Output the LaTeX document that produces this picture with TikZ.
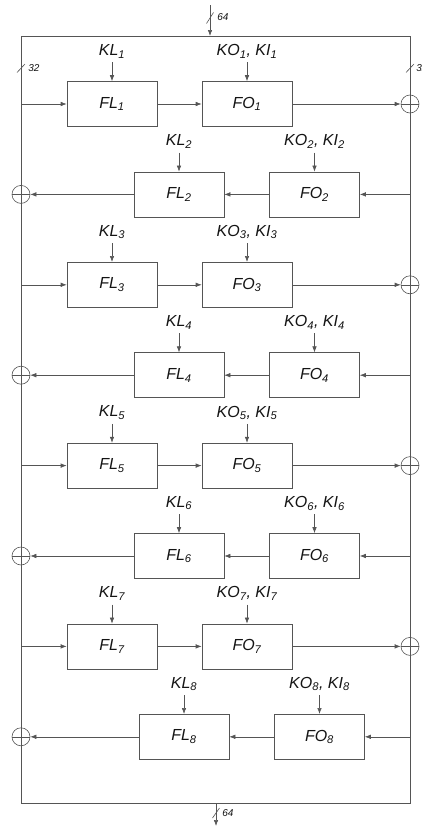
\documentclass[tikz,border=0pt]{standalone}
\usepackage{fontspec}
\setmainfont{Liberation Sans}
\usetikzlibrary{arrows.meta}
\definecolor{lc}{RGB}{85,85,85}
\definecolor{tc}{RGB}{20,20,20}
\begin{document}
\begin{tikzpicture}[x=1pt,y=-1pt,line width=0.6pt,
  box/.style={draw=lc,minimum width=90pt,minimum height=45pt,inner sep=0pt,text=tc,font=\itshape\fontsize{16}{16}\selectfont},
  lbl/.style={inner sep=0pt,text=tc,font=\itshape\fontsize{16}{16}\selectfont},
  small/.style={inner sep=0pt,text=tc,anchor=west,font=\itshape\fontsize{10}{10}\selectfont},
  arr/.style={draw=lc,-{Latex[length=6pt,width=4.5pt]}},
  ln/.style={draw=lc},
  xorc/.style={circle,draw=lc,minimum size=18pt,inner sep=0pt,
    path picture={\draw[lc] (path picture bounding box.north) -- (path picture bounding box.south)
      (path picture bounding box.west) -- (path picture bounding box.east);}}]
\useasboundingbox (0,0) rectangle (421,827);
% frame
\coordinate (tl) at (21,36);
\coordinate (br) at (410,803);
\draw[ln] (tl) rectangle (br);
% top input
\coordinate (tin) at (210,5);
\coordinate (tinE) at (210,36);
\draw[arr] (tin) -- (tinE);
\draw[ln] (206.5,23.5) -- (213.5,12.5);
\node[small] (t64) at (217,17) {64};
% bottom output
\coordinate (bout) at (216,803);
\coordinate (boutE) at (216,826);
\draw[arr] (bout) -- (boutE);
\draw[ln] (212.5,818) -- (219.5,808);
\node[small] (b64) at (222,813) {64};
% side slashes
\draw[ln] (17,72.5) -- (25,64);
\node[small] (l32) at (28,68) {32};
\draw[ln] (406,72.5) -- (414,64);
\node[small] (r32) at (416,68) {32};
\foreach \i in {1,...,8}{
  \pgfmathsetmacro\cy{104+(\i-1)*90.4}
  \ifodd\i
    \node[box] (FL\i) at (112,\cy) {FL\textsubscript{\i}};
    \node[box] (FO\i) at (247,\cy) {FO\textsubscript{\i}};
    \node[xorc] (X\i) at (410,\cy) {};
    \coordinate (S\i) at (21,\cy);
    \draw[arr] (S\i) -- (FL\i.west);
    \draw[arr] (FL\i.east) -- (FO\i.west);
    \draw[arr] (FO\i.east) -- (X\i.west);
  \else
    \ifnum\i=8 \def\dx{5}\else\def\dx{0}\fi
    \node[box] (FL\i) at (179+\dx,\cy) {FL\textsubscript{\i}};
    \node[box] (FO\i) at (314.5+\dx,\cy) {FO\textsubscript{\i}};
    \node[xorc] (X\i) at (21,\cy) {};
    \coordinate (S\i) at (410,\cy);
    \draw[arr] (S\i) -- (FO\i.east);
    \draw[arr] (FO\i.west) -- (FL\i.east);
    \draw[arr] (FL\i.west) -- (X\i.east);
  \fi
  \node[lbl] (KL\i) at ([yshift=30pt]FL\i.north) {KL\textsubscript{\i}};
  \node[lbl] (KO\i) at ([yshift=30pt]FO\i.north) {KO\textsubscript{\i}, KI\textsubscript{\i}};
  \draw[arr] ([yshift=19pt]FL\i.north) -- (FL\i.north);
  \draw[arr] ([yshift=19pt]FO\i.north) -- (FO\i.north);
}
\end{tikzpicture}
\end{document}
